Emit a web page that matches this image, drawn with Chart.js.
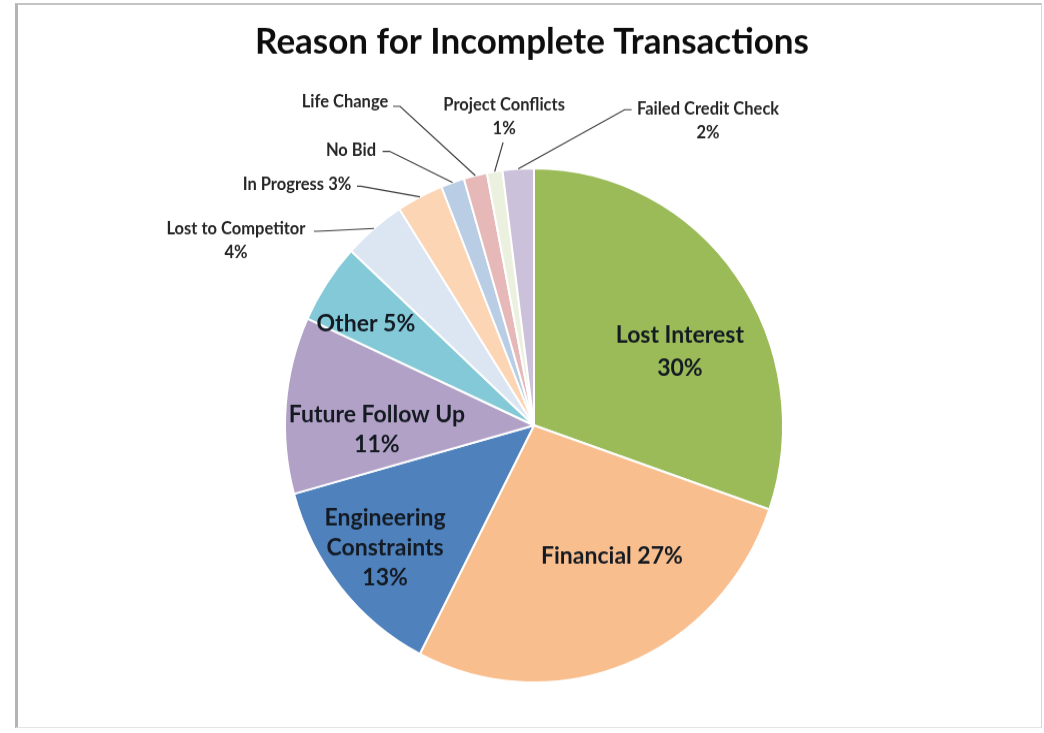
<!DOCTYPE html>
<html>
<head>
<meta charset="utf-8">
<title>Reason for Incomplete Transactions</title>
<script src="https://cdn.jsdelivr.net/npm/chart.js@4.4.1/dist/chart.umd.min.js"></script>
<style>
  html, body { margin: 0; padding: 0; background: #ffffff; overflow: hidden; }
  #wrap { position: relative; width: 1044px; height: 733px; }
  #frame {
    position: absolute; left: 15px; top: 3px; width: 1027px; height: 725px;
    box-sizing: border-box;
    border-top: 2px solid #c4c4c4; border-left: 3px solid #b4b4b4;
    border-right: 1px solid #d6d6d6; border-bottom: 1px solid #e4e4e4;
  }
  /* the plot is drawn slightly taller than wide */
  #chart { position: absolute; left: 0; top: 0; transform-origin: 0 0; transform: scaleY(1.0324); }
</style>
</head>
<body>
<div id="wrap">
  <div id="frame"></div>
  <canvas id="chart" width="1044" height="710"></canvas>
</div>
<script>
// ---- data ----
const chartTitle = 'Reason for Incomplete Transactions';
const categories = [
  'Lost Interest', 'Financial', 'Engineering Constraints', 'Future Follow Up', 'Other',
  'Lost to Competitor', 'In Progress', 'No Bid', 'Life Change', 'Project Conflicts', 'Failed Credit Check'
];
const percentages = [30, 27, 13, 11, 5, 4, 3, 1.5, 1.5, 1, 2];
const sliceColors = [
  '#9bbb59', '#f9be8e', '#4f81bd', '#b2a1c7', '#84c9d7',
  '#dce6f2', '#fcd5b5', '#b9cde5', '#e6b9b8', '#ebf1de', '#ccc1da'
];

// ---- label layout ----
// form: 'stack' = name over value, 'words' = one word per line then value,
//       'inline' = "name value" on one line, 'name' = name only.
// at: centre of the text block, lead: where the leader line leaves the text,
// both in pie radii measured from the pie centre; stub: short level run of the leader.
const labelLayout = [
  { form: 'stack',  inside: true, at: [0.586, -0.286], lh: 32 },
  { form: 'inline', inside: true, at: [0.313, 0.510] },
  { form: 'words',  inside: true, at: [-0.598, 0.475], lh: 29 },
  { form: 'stack',  inside: true, at: [-0.631, 0.016], lh: 29 },
  { form: 'inline', inside: true, at: [-0.675, -0.397] },
  { form: 'stack',  at: [-1.197, -0.718], lead: [-0.884, -0.755], stub: 4 },
  { form: 'inline', at: [-0.952, -0.937], lead: [-0.711, -0.930], stub: 4 },
  { form: 'name',   at: [-0.735, -1.070], lead: [-0.608, -1.066], stub: 7 },
  { form: 'name',   at: [-0.759, -1.257], lead: [-0.566, -1.241], stub: 7 },
  { form: 'stack',  at: [-0.120, -1.200], lead: [-0.124, -1.101], stub: 0 },
  { form: 'stack',  at: [0.699, -1.185], lead: [0.392, -1.228], stub: -7 }
];

const fontFamily = 'Lato, "Open Sans", "DejaVu Sans", sans-serif';

function labelLines(i) {
  const name = categories[i];
  const pct = percentages[i] + '%';
  switch (labelLayout[i].form) {
    case 'stack':  return [name, pct];
    case 'words':  return name.split(' ').concat([pct]);
    case 'inline': return [name + ' ' + pct];
    default:       return [name];
  }
}

// data labels and leader lines, anchored to each arc's centre and radius
const sliceLabels = {
  id: 'sliceLabels',
  afterDatasetsDraw(chart) {
    const ctx = chart.ctx;
    const arcs = chart.getDatasetMeta(0).data;
    ctx.save();
    arcs.forEach((arc, i) => {
      const p = arc.getProps(['x', 'y', 'outerRadius', 'startAngle', 'endAngle'], true);
      const L = labelLayout[i];
      const r = p.outerRadius;
      if (L.lead) {
        const mid = (p.startAngle + p.endAngle) / 2;
        const ex = p.x + Math.cos(mid) * r;
        const ey = p.y + Math.sin(mid) * r;
        const sx = p.x + L.lead[0] * r;
        const sy = p.y + L.lead[1] * r;
        ctx.beginPath();
        ctx.moveTo(sx, sy);
        if (L.stub) ctx.lineTo(sx + L.stub, sy);
        ctx.lineTo(ex, ey);
        ctx.strokeStyle = '#3c3c3c';
        ctx.lineWidth = 1.2;
        ctx.stroke();
      }
      const lines = labelLines(i);
      const size = L.inside ? 23 : 16.5;
      const lh = L.lh || (L.inside ? 29 : 23);
      ctx.font = 'bold ' + size + 'px ' + fontFamily;
      ctx.fillStyle = L.inside ? '#141a22' : '#262626';
      ctx.textAlign = 'center';
      ctx.textBaseline = 'middle';
      const cx = p.x + L.at[0] * r;
      const cy = p.y + L.at[1] * r;
      const top = cy - (lines.length - 1) * lh / 2;
      lines.forEach((t, k) => ctx.fillText(t, cx, top + k * lh));
    });
    ctx.restore();
  }
};

const titleText = {
  id: 'titleText',
  afterDraw(chart) {
    const ctx = chart.ctx;
    ctx.save();
    ctx.font = 'bold 35px ' + fontFamily;
    ctx.fillStyle = '#0d0d0d';
    ctx.textAlign = 'center';
    ctx.textBaseline = 'alphabetic';
    ctx.fillText(chartTitle, 532, 52);
    ctx.restore();
  }
};

new Chart(document.getElementById('chart'), {
  type: 'pie',
  data: {
    labels: categories,
    datasets: [{
      data: percentages,
      backgroundColor: sliceColors,
      borderColor: '#ffffff',
      borderWidth: 2
    }]
  },
  options: {
    responsive: false,
    animation: false,
    layout: { padding: { left: 284, right: 260, top: 162, bottom: 48 } },
    plugins: {
      legend: { display: false },
      title: { display: false },
      tooltip: { enabled: false }
    }
  },
  plugins: [sliceLabels, titleText]
});
</script>
</body>
</html>
